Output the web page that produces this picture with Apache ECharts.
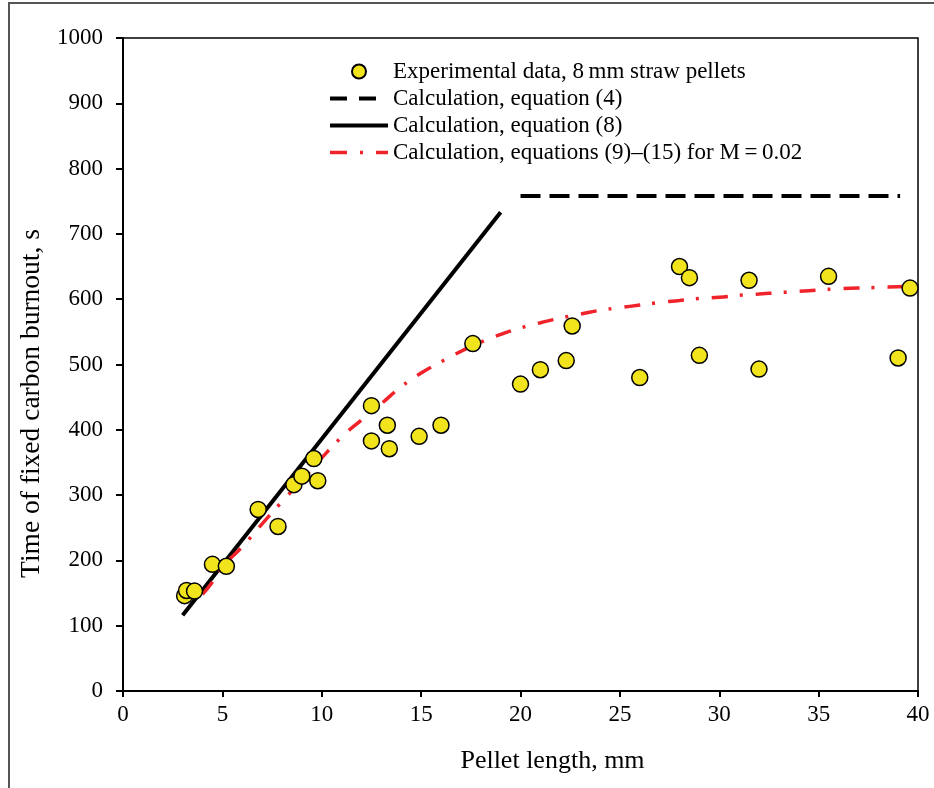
<!DOCTYPE html>
<html>
<head>
<meta charset="utf-8">
<title>Fixed carbon burnout</title>
<script src="https://cdn.jsdelivr.net/npm/echarts@6/dist/echarts.min.js"></script>
<style>
	html, body { margin: 0; padding: 0; background: #fff; }
	#chart { width: 934px; height: 788px; }
</style>
</head>
<body>
<div id="chart"></div>
<script>
// experimental points, 8 mm straw pellets
var expX = [3.1, 3.2, 3.6, 4.5, 5.2, 6.8, 7.8, 8.6, 9.0, 9.6, 9.8, 12.5, 12.5, 13.3, 13.4, 14.9, 16.0,
	17.6, 20.0, 21.0, 22.3, 22.6, 26.0, 28.0, 28.5, 29.0, 31.5, 32.0, 35.5, 39.0, 39.6];
var expY = [146, 154, 153, 194, 191, 278, 252, 316, 329, 356, 322, 437, 383, 407, 371, 390, 407,
	532, 470, 492, 506, 559, 480, 650, 633, 514, 629, 493, 635, 510, 617];

// equation (4)
var eq4X = [20, 39.1];
var eq4Y = [758, 758];

// equation (8)
var eq8X = [3, 19];
var eq8Y = [116, 733];

// equations (9)-(15), M = 0.02
var mX = [4, 4.5, 5, 6, 7, 8, 9, 10, 11, 12, 13, 14, 15, 16, 17, 18, 19, 20, 21, 22, 23, 24, 25,
	26, 27, 28, 29, 30, 31, 32, 33, 34, 35, 36, 37, 38, 39, 40];
var mY = [148, 167, 190, 221, 256, 290, 323, 357, 389, 415, 440, 466, 487, 504, 520, 534, 546, 556,
	564, 571, 577, 583, 587, 591, 595, 598, 601, 603, 606, 608, 610, 612, 614, 616, 617, 618, 619, 620];

var xTicks = { min: 0, max: 40, interval: 5 };
var yTicks = { min: 0, max: 1000, interval: 100 };

var names = [
	'Experimental data, 8\u2009mm straw pellets',
	'Calculation, equation (4)',
	'Calculation, equation (8)',
	'Calculation, equations (9)\u2013(15) for M\u2009=\u20090.02'
];

function pairs(xs, ys) {
	var out = [];
	for (var i = 0; i < xs.length; i++) out.push([xs[i], ys[i]]);
	return out;
}

var serif = "'Liberation Serif', 'Times New Roman', serif";
var chart = echarts.init(document.getElementById('chart'));

var option = {
	backgroundColor: '#fff',
	animation: false,
	textStyle: { fontFamily: serif, color: '#000' },
	graphic: [{
		type: 'rect',
		shape: { x: 9, y: 3, width: 1000, height: 1000 },
		style: { fill: 'none', stroke: '#555', lineWidth: 2 },
		silent: true
	}],
	grid: {
		left: 123, right: 16, top: 38, bottom: 97,
		show: true, borderColor: '#000', borderWidth: 1.5, backgroundColor: 'transparent'
	},
	legend: {
		orient: 'vertical',
		left: 323, top: 55,
		itemWidth: 58, itemHeight: 14, itemGap: 4,
		textStyle: { fontFamily: serif, fontSize: 23, lineHeight: 23, color: '#000' },
		data: [
			{ name: names[0] },
			{ name: names[1], itemStyle: { opacity: 0 }, lineStyle: { width: 4, type: [17, 12] } },
			{ name: names[2], itemStyle: { opacity: 0 }, lineStyle: { width: 4 } },
			{ name: names[3], itemStyle: { opacity: 0 }, lineStyle: { width: 3.5, type: [17, 13, 3, 13] } }
		]
	},
	xAxis: {
		type: 'value',
		min: xTicks.min, max: xTicks.max, interval: xTicks.interval,
		name: 'Pellet length, mm',
		nameLocation: 'middle', nameGap: 57,
		nameTextStyle: { fontFamily: serif, fontSize: 26, color: '#000', padding: [0, 0, 0, 64] },
		axisLine: { onZero: false, lineStyle: { color: '#000', width: 2 } },
		axisTick: { inside: false, length: 6, lineStyle: { color: '#000', width: 2 } },
		axisLabel: { fontFamily: serif, fontSize: 23, color: '#000', margin: 12 },
		splitLine: { show: false }
	},
	yAxis: {
		type: 'value',
		min: yTicks.min, max: yTicks.max, interval: yTicks.interval,
		name: 'Time of fixed carbon burnout, s',
		nameLocation: 'middle', nameGap: 70,
		nameTextStyle: { fontFamily: serif, fontSize: 27.5, color: '#000', padding: [0, 78, 0, 0] },
		axisLine: { onZero: false, lineStyle: { color: '#000', width: 2 } },
		axisTick: { inside: false, length: 7, lineStyle: { color: '#000', width: 2 } },
		axisLabel: {
			fontFamily: serif, fontSize: 23, color: '#000', margin: 20,
			formatter: function (v) { return String(v); }
		},
		splitLine: { show: false }
	},
	series: [
		{
			name: names[1],
			type: 'line',
			data: pairs(eq4X, eq4Y),
			symbol: 'none', showSymbol: false,
			lineStyle: { color: '#000', width: 4, type: [20, 9] },
			itemStyle: { color: '#000' },
			z: 2
		},
		{
			name: names[2],
			type: 'line',
			data: pairs(eq8X, eq8Y),
			symbol: 'none', showSymbol: false,
			lineStyle: { color: '#000', width: 4, type: 'solid' },
			itemStyle: { color: '#000' },
			z: 2
		},
		{
			name: names[3],
			type: 'line',
			data: pairs(mX, mY),
			smooth: true,
			symbol: 'none', showSymbol: false,
			lineStyle: { color: '#f0222a', width: 3.5, type: [16, 12, 3, 13] },
			itemStyle: { color: '#f0222a' },
			z: 2
		},
		{
			name: names[0],
			type: 'scatter',
			data: pairs(expX, expY),
			symbol: 'circle',
			symbolSize: 16,
			itemStyle: { color: '#f2e41c', borderColor: '#000', borderWidth: 1.5, opacity: 1 },
			z: 5
		}
	]
};

chart.setOption(option);
</script>
</body>
</html>
